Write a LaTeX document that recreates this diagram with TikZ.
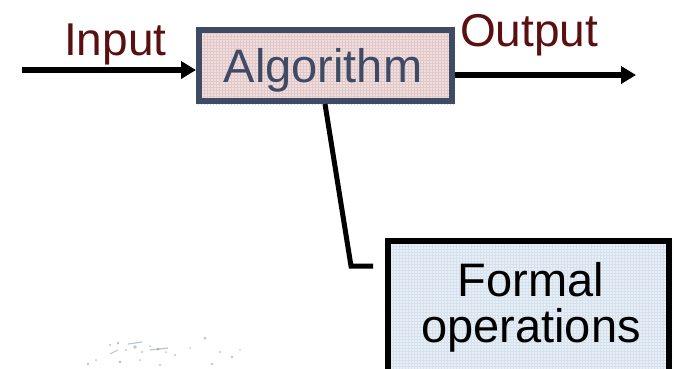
\documentclass[tikz,border=0pt]{standalone}
\usepackage{fontspec}
\setmainfont{Liberation Sans}
\usetikzlibrary{arrows.meta}
\definecolor{maroon}{HTML}{5A1010}
\definecolor{slate}{HTML}{3F4A64}
\definecolor{pinkfill}{HTML}{F1DEDE}
\definecolor{pinkgrid}{HTML}{E2C9C9}
\definecolor{bluefill}{HTML}{E8EFF7}
\definecolor{bluegrid}{HTML}{D6E1EE}
\definecolor{ink}{HTML}{3D5A8A}
\tikzset{
  label text/.style={font=\fontsize{46}{50}\selectfont, text=maroon, inner sep=0pt, anchor=base west},
  flow/.style={line width=6pt, -{Triangle[length=15pt,width=17pt]}},
  callout/.style={line width=5pt},
}
\begin{document}
\begin{tikzpicture}[x=1pt,y=-1pt]
\useasboundingbox (0,0) rectangle (674,368);
\fill[white] (0,0) rectangle (674,368);

% algorithm box with fine grid texture
\fill[pinkfill] (196,27) rectangle (455,104);
\begin{scope}
  \clip (196,27) rectangle (455,104);
  \draw[pinkgrid, line width=0.4pt, step=3pt] (190,20) grid (465,110);
\end{scope}
\node[draw=slate, line width=6pt, minimum width=253pt, minimum height=71pt,
      inner sep=0pt] (alg) at (325.5,65.5) {};
\node[text=slate, font=\fontsize{47}{50}\selectfont, inner sep=0pt, anchor=base]
  (algtext) at (323,82) {Algorithm};

% formal operations box, running off the bottom edge
\fill[bluefill] (385,238) rectangle (672,380);
\begin{scope}
  \clip (385,238) rectangle (672,368);
  \draw[bluegrid, line width=0.4pt, step=3pt] (380,230) grid (680,372);
\end{scope}
\draw[black, line width=6pt] (388,380) -- (388,241) -- (669,241) -- (669,380);
\coordinate (fbox) at (385,238);
\node[font=\fontsize{47}{50}\selectfont, inner sep=0pt, anchor=base]
  (formal) at (531,296) {Formal};
\node[font=\fontsize{47}{50}\selectfont, inner sep=0pt, anchor=base]
  (ops) at (531,342) {operations};

% labels
\node[label text] (in) at (64,55) {Input};
\node[label text] (out) at (460,46) {Output};

% input / output arrows
\coordinate (src) at (22,70);
\coordinate (dst) at (636,75);
\draw[flow] (src) -- (alg.west |- src);
\draw[flow] (alg.east |- dst) -- (dst);

% callout from the algorithm box
\coordinate (bend) at (351,266);
\coordinate (tip) at (373,266);
\draw[callout] (alg.south -| 325,0) -- (bend) -- (tip);

% faint sketch in the lower left corner
\begin{scope}[ink, opacity=0.35]
  \foreach \x/\y/\r in {110/345/1.2,118/343/1.5,126/350/1.0,135/347/1.8,142/352/1.2,
                        150/346/1.0,158/349/1.4,166/352/1.0,175/355/1.2,190/348/0.9,
                        205/338/1.5,220/352/1.1,232/357/1.3,240/350/0.9,96/360/1.0,
                        88/364/1.3,120/362/1.6,140/360/1.0,160/365/1.2,212/364/1.4}
    \fill (\x,\y) circle (\r pt);
  \draw[line width=1.2pt] (128,344) -- (142,342);
  \draw[line width=1.2pt] (150,350) -- (168,348);
  \draw[line width=1pt] (110,354) -- (118,350);
\end{scope}
\end{tikzpicture}
\end{document}
